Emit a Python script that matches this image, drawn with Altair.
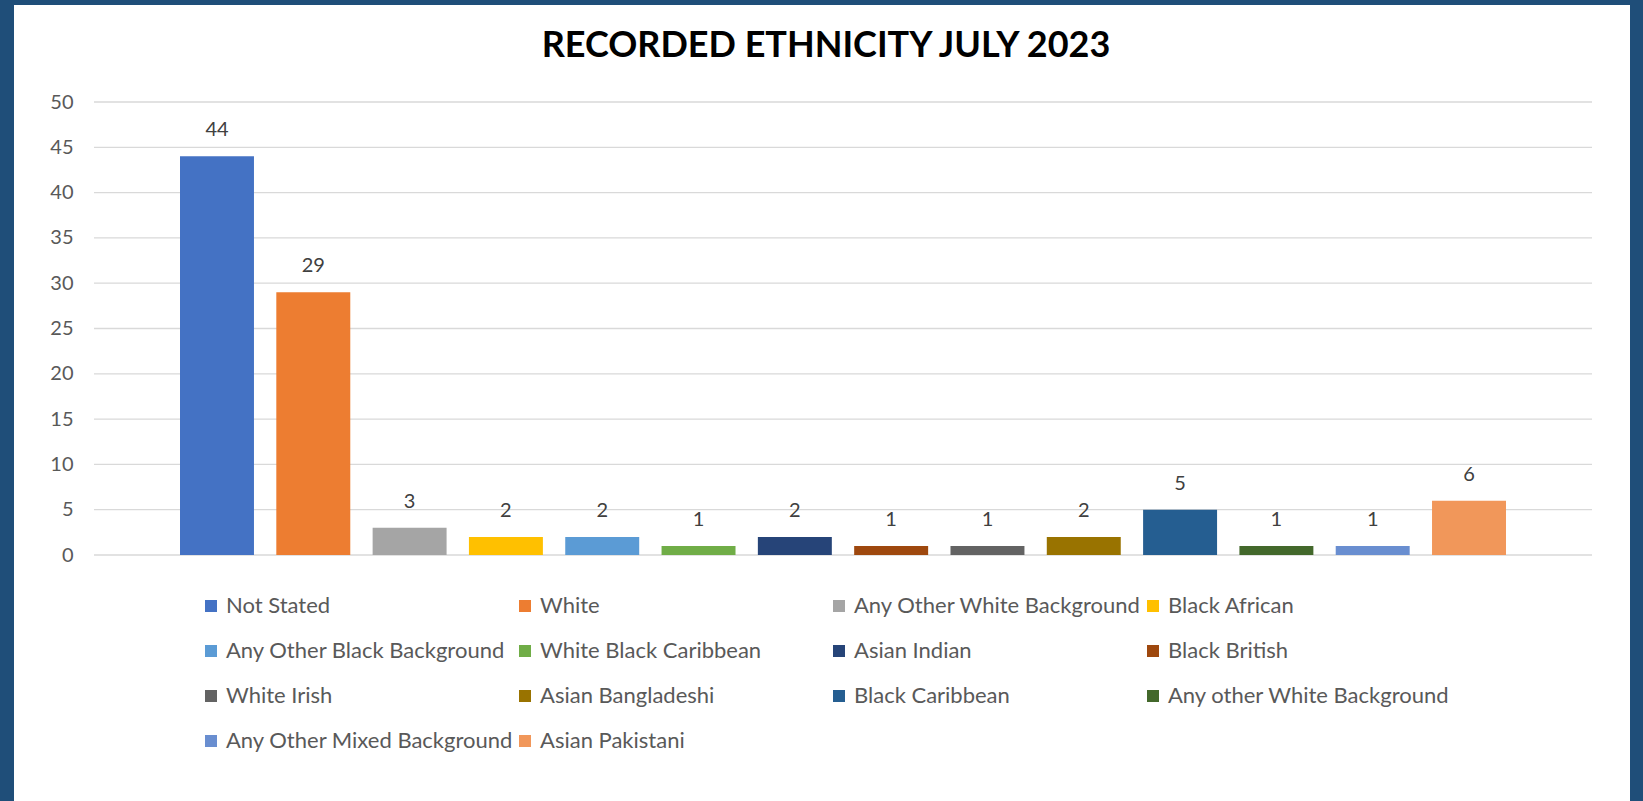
import altair as alt
import pandas as pd

categories = ["Not Stated", "White", "Any Other White Background", "Black African",
              "Any Other Black Background", "White Black Caribbean", "Asian Indian",
              "Black British", "White Irish", "Asian Bangladeshi", "Black Caribbean",
              "Any other White Background", "Any Other Mixed Background", "Asian Pakistani"]
values = [44, 29, 3, 2, 2, 1, 2, 1, 1, 2, 5, 1, 1, 6]
colors = ["#4472C4", "#ED7D31", "#A5A5A5", "#FFC000", "#5B9BD5", "#70AD47", "#264478",
          "#9E480E", "#636363", "#997300", "#255E91", "#43682B", "#698ED0", "#F1975A"]
y_ticks = [0, 5, 10, 15, 20, 25, 30, 35, 40, 45, 50]

W, H = 1498, 453
FONT = "Lato"

df = pd.DataFrame({"cat": categories, "val": values})
grid_df = pd.DataFrame({"v": y_ticks})

x_enc = alt.X("cat:N", sort=categories, axis=None,
              scale=alt.Scale(paddingInner=0.232, paddingOuter=0.893))
y_scale = alt.Scale(domain=[0, 50], nice=False)
y_axis = alt.Axis(values=y_ticks, grid=False, domain=False, ticks=False,
                  labelPadding=21, labelFont=FONT, labelFontSize=20,
                  labelColor="#595959", title=None, zindex=1)

frame = alt.Chart(pd.DataFrame({"a": [0]})).mark_rect(color="white").encode(
    x=alt.value(-80), x2=alt.value(1536), y=alt.value(-97), y2=alt.value(699))

grid = alt.Chart(grid_df).mark_rule(color="#d9d9d9", strokeWidth=1.3).encode(
    y=alt.Y("v:Q", scale=y_scale, axis=y_axis))

bars = alt.Chart(df).mark_bar().encode(
    x=x_enc,
    y=alt.Y("val:Q", scale=y_scale, axis=y_axis),
    color=alt.Color("cat:N", sort=categories,
                    scale=alt.Scale(domain=categories, range=colors),
                    legend=alt.Legend(title=None, orient="none", legendX=106, legendY=493,
                                      columns=4, gridAlign="all", columnPadding=-4,
                                      rowPadding=23, symbolType="square", symbolSize=144,
                                      symbolStrokeWidth=0, labelFont=FONT, labelFontSize=22,
                                      labelColor="#595959", labelLimit=500, labelOffset=4,
                                      padding=0, direction="horizontal")),
)

labels = alt.Chart(df).mark_text(baseline="alphabetic", dy=-20, font=FONT, fontSize=20,
                                 color="#404040").encode(
    x=x_enc, y=alt.Y("val:Q", scale=y_scale, axis=y_axis), text="val:Q")

chart = alt.layer(frame, grid, bars, labels).properties(
    width=W, height=H,
    title=alt.TitleParams("RECORDED ETHNICITY JULY 2023", anchor="middle", frame="group",
                          font=FONT, fontSize=36, fontWeight="bold", color="#000000",
                          offset=-60, dx=-17),
    background="#1F4E79",
    padding={"left": 14, "top": 5, "right": 13, "bottom": 0},
).configure_view(stroke=None)

chart.save("out.html", embed_options={"renderer": "svg", "actions": False})
